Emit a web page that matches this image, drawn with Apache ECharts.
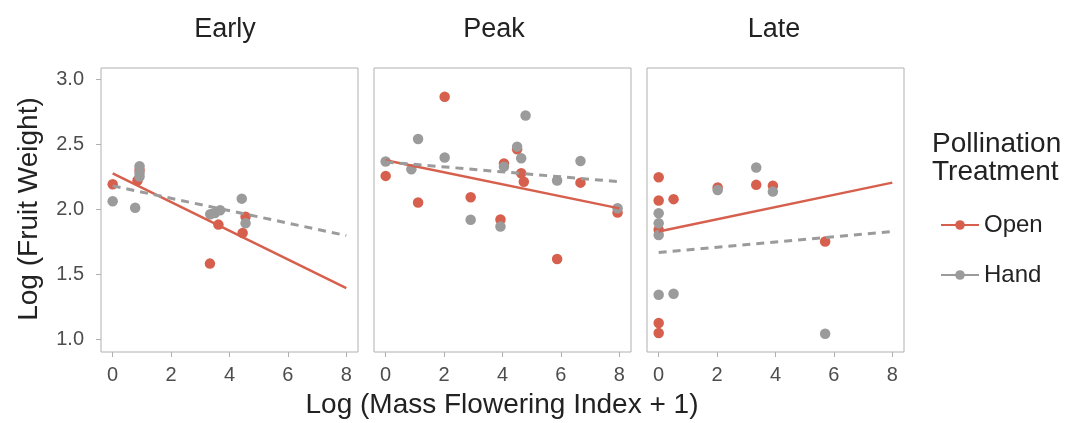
<!DOCTYPE html>
<html><head><meta charset="utf-8">
<script src="https://cdn.jsdelivr.net/npm/echarts@6/dist/echarts.min.js"></script>
<style>html,body{margin:0;padding:0;background:#fff}#c{width:1079px;height:423px}</style>
</head><body><div id="c"></div>
<script>
// ---- data ----
const panels = ['Early', 'Peak', 'Late'];
const xTicks = [0, 2, 4, 6, 8];
const yTicks = [1.0, 1.5, 2.0, 2.5, 3.0];
const seriesNames = ['Open', 'Hand'];

const openEarly = [[0,2.19],[0.92,2.30],[0.85,2.22],[3.33,1.58],[3.62,1.88],[4.45,1.815],[4.55,1.94]];
const handEarly = [[0,2.06],[0.77,2.01],[0.92,2.33],[0.92,2.28],[0.92,2.25],[3.34,1.96],[3.5,1.97],[3.68,1.99],[4.42,2.08],[4.55,1.89]];
const openPeak = [[0,2.255],[1.11,2.05],[2.02,2.864],[2.91,2.09],[3.93,1.92],[4.05,2.35],[4.5,2.46],[4.64,2.275],[4.73,2.21],[5.87,1.615],[6.67,2.203],[7.94,1.973]];
const handPeak = [[0,2.365],[0.88,2.306],[1.11,2.539],[2.02,2.396],[2.91,1.917],[3.93,1.865],[4.05,2.326],[4.5,2.48],[4.64,2.39],[4.79,2.72],[5.87,2.219],[6.67,2.37],[7.94,2.006]];
const openLate = [[0,2.245],[0,2.065],[0.51,2.076],[0,1.84],[0,1.123],[0,1.046],[2.02,2.165],[3.34,2.186],[3.91,2.18],[5.7,1.75]];
const handLate = [[0,1.968],[0,1.891],[0,1.80],[0,1.34],[0.51,1.348],[2.02,2.147],[3.34,2.32],[3.91,2.134],[5.7,1.041]];

const fitOpenEarly = [[0,2.275],[8,1.392]];
const fitHandEarly = [[0,2.178],[8,1.796]];
const fitOpenPeak = [[0,2.375],[8,2.005]];
const fitHandPeak = [[0,2.362],[8,2.21]];
const fitOpenLate = [[0,1.827],[8,2.203]];
const fitHandLate = [[0,1.665],[8,1.827]];

// ---- styling / layout ----
const ORANGE = '#D6604D', GRAY = '#9B9B9B';
const BORDER = '#B0B0B0', TXT = '#222', TICKTXT = '#4d4d4d';
const FONT = '"Liberation Sans", Arial, Helvetica, sans-serif';
const gridLefts = [101, 374, 647];
const gridW = 257, gridTop = 68, gridH = 284;

const openPts = [openEarly, openPeak, openLate];
const handPts = [handEarly, handPeak, handLate];
const fitOpen = [fitOpenEarly, fitOpenPeak, fitOpenLate];
const fitHand = [fitHandEarly, fitHandPeak, fitHandLate];

const grids = [], xAxes = [], yAxes = [], series = [];
panels.forEach((p, i) => {
  grids.push({left: gridLefts[i], top: gridTop, width: gridW, height: gridH,
    show: true, borderColor: BORDER, borderWidth: 1, backgroundColor: 'transparent'});
  xAxes.push({gridIndex: i, type: 'value', min: -0.4, max: 8.4, position: 'bottom',
    axisLine: {show: false, onZero: false}, splitLine: {show: false},
    axisTick: {show: true, customValues: xTicks, length: 5, lineStyle: {color: BORDER, width: 1}},
    axisLabel: {customValues: xTicks, fontSize: 20, color: TICKTXT, margin: 13, fontFamily: FONT}});
  yAxes.push({gridIndex: i, type: 'value', min: 0.9, max: 3.085, position: 'left',
    axisLine: {show: false, onZero: false}, splitLine: {show: false},
    axisTick: {show: i === 0, customValues: yTicks, length: 5, lineStyle: {color: BORDER, width: 1}},
    axisLabel: {show: i === 0, customValues: yTicks, fontSize: 20, color: TICKTXT, margin: 17,
      fontFamily: FONT, formatter: v => Number(v).toFixed(1)}});
  series.push({type: 'scatter', name: 'open-pts-' + i, xAxisIndex: i, yAxisIndex: i, data: openPts[i],
    symbolSize: 10.5, itemStyle: {color: ORANGE, opacity: 1}, z: 2, silent: true});
  series.push({type: 'scatter', name: 'hand-pts-' + i, xAxisIndex: i, yAxisIndex: i, data: handPts[i],
    symbolSize: 10.5, itemStyle: {color: GRAY, opacity: 1}, z: 3, silent: true});
  series.push({type: 'line', name: 'open-fit-' + i, xAxisIndex: i, yAxisIndex: i, data: fitOpen[i],
    showSymbol: false, symbol: 'none', lineStyle: {color: ORANGE, width: 2.5}, z: 4, silent: true});
  series.push({type: 'line', name: 'hand-fit-' + i, xAxisIndex: i, yAxisIndex: i, data: fitHand[i],
    showSymbol: false, symbol: 'none', lineStyle: {color: GRAY, width: 3, type: [8, 6]}, z: 5, silent: true});
});
// legend-only series
series.push({type: 'line', name: seriesNames[0], xAxisIndex: 0, yAxisIndex: 0, data: [],
  symbol: 'circle', symbolSize: 9, itemStyle: {color: ORANGE}, lineStyle: {color: ORANGE, width: 3}});
series.push({type: 'line', name: seriesNames[1], xAxisIndex: 0, yAxisIndex: 0, data: [],
  symbol: 'circle', symbolSize: 9, itemStyle: {color: GRAY}, lineStyle: {color: GRAY, width: 3}});

const titleX = [225, 494, 774];
const graphics = panels.map((p, i) => ({type: 'text', x: titleX[i], y: 30,
  style: {text: p, fontSize: 27, fill: TXT, fontFamily: FONT, textAlign: 'center', textVerticalAlign: 'middle'}}));
graphics.push({type: 'text', x: 29, y: 209, rotation: Math.PI / 2,
  style: {text: 'Log (Fruit Weight)', fontSize: 28, fill: TXT, fontFamily: FONT, textAlign: 'center', textVerticalAlign: 'middle'}});
graphics.push({type: 'text', x: 502, y: 405,
  style: {text: 'Log (Mass Flowering Index + 1)', fontSize: 28, fill: TXT, fontFamily: FONT, textAlign: 'center', textVerticalAlign: 'middle'}});
graphics.push({type: 'text', x: 932, y: 130,
  style: {text: 'Pollination\nTreatment', fontSize: 28, lineHeight: 28, fill: TXT, fontFamily: FONT, textAlign: 'left', textVerticalAlign: 'top'}});

const chart = echarts.init(document.getElementById('c'), null, {renderer: 'canvas'});
chart.setOption({
  animation: false,
  backgroundColor: '#fff',
  grid: grids, xAxis: xAxes, yAxis: yAxes, series: series,
  legend: {data: seriesNames, orient: 'vertical', left: 935, top: 208, itemWidth: 38, itemHeight: 12,
    itemGap: 26, textStyle: {fontSize: 24, color: TXT, fontFamily: FONT, lineHeight: 22}, selectedMode: false},
  graphic: graphics
});
</script></body></html>
